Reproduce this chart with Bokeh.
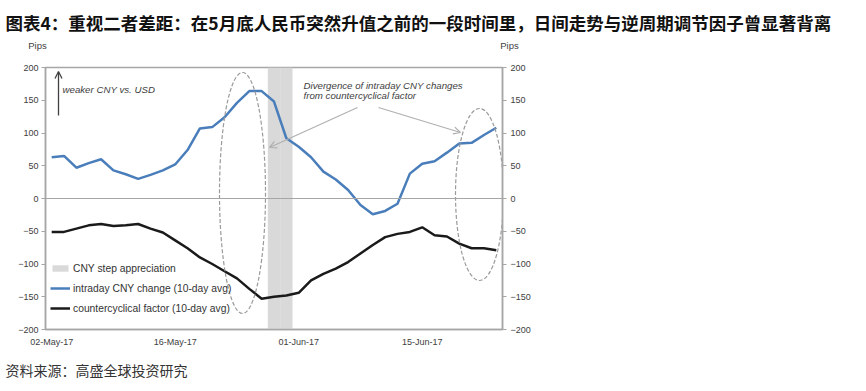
from bokeh.plotting import figure
from bokeh.models import (Range1d, LinearAxis, FixedTicker, Span, Label, Arrow,
                          OpenHead, Legend, LegendItem)
from bokeh.embed import file_html
from bokeh.resources import INLINE

# ---------------- data ----------------
dates = ["02-May-17", "03-May-17", "04-May-17", "05-May-17", "08-May-17", "09-May-17",
         "10-May-17", "11-May-17", "12-May-17", "15-May-17", "16-May-17", "17-May-17",
         "18-May-17", "19-May-17", "22-May-17", "23-May-17", "24-May-17", "25-May-17",
         "26-May-17", "31-May-17", "01-Jun-17", "02-Jun-17", "05-Jun-17", "06-Jun-17",
         "07-Jun-17", "08-Jun-17", "09-Jun-17", "12-Jun-17", "13-Jun-17", "14-Jun-17",
         "15-Jun-17", "16-Jun-17", "19-Jun-17", "20-Jun-17", "21-Jun-17", "22-Jun-17",
         "23-Jun-17"]
intraday_cny = [63, 65, 47, 54, 60, 43, 37, 30, 36, 43, 52, 74, 107, 109, 124, 146, 164,
                164, 148, 92, 79, 63, 41, 29, 13, -10, -24, -19, -8, 38, 53, 57, 70, 84,
                85, 97, 108]
countercyclical = [-51, -51, -46, -41, -39, -42, -41, -39, -46, -52, -64, -76, -90, -100,
                   -111, -122, -138, -153, -150, -148, -144, -125, -115, -107, -97, -84,
                   -71, -59, -54, -51, -44, -56, -58, -69, -76, -76, -79]
step_dates = ["26-May-17", "31-May-17"]
x_tick_labels = ["02-May-17", "16-May-17", "01-Jun-17", "15-Jun-17"]
y_ticks = [-200, -150, -100, -50, 0, 50, 100, 150, 200]

title_text = "图表4：重视二者差距：在5月底人民币突然升值之前的一段时间里，日间走势与逆周期调节因子曾显著背离"
source_text = "资料来源：高盛全球投资研究"

# ---------------- layout helpers (canvas pixel -> data) ----------------
N = len(dates)
W, H = 850, 382
FL, FR, FT, FB = 45, 502, 67, 329


def xd(px):
    return -0.5 + (px - FL) * N / (FR - FL)


def yd(py):
    return y_ticks[-1] - (py - FT) * (y_ticks[-1] - y_ticks[0]) / (FB - FT)


def wd(px):
    return px * N / (FR - FL)


def hd(px):
    return px * (y_ticks[-1] - y_ticks[0]) / (FB - FT)


idx = list(range(N))
FONT = "Liberation Sans"
TXT = "#404040"
AX = "#a6a6a6"

p = figure(width=W, height=H, output_backend="svg", toolbar_location=None,
           x_range=Range1d(-0.5, N - 0.5), y_range=Range1d(y_ticks[0], y_ticks[-1]),
           min_border_left=FL, min_border_top=FT,
           min_border_right=W - FR, min_border_bottom=H - FB)
p.xgrid.visible = False
p.ygrid.visible = False
p.outline_line_color = AX
p.outline_line_width = 1.5
p.background_fill_color = "white"
p.border_fill_color = "white"

# step appreciation band
step_idx = [dates.index(d) for d in step_dates]
band = p.vbar(x=step_idx, width=1, top=y_ticks[-1], bottom=y_ticks[0],
              fill_color="#d9d9d9", line_color=None)

# zero line
p.add_layout(Span(location=0, dimension="width", line_color=AX, line_width=1.2))

blue = p.line(idx, intraday_cny, line_color="#4a7ebb", line_width=2.5)
black = p.line(idx, countercyclical, line_color="#1a1a1a", line_width=2.5)

# dashed ellipses
p.ellipse(x=[xd(242), xd(479)], y=[yd(192.5), yd(194)],
          width=[wd(46), wd(48)], height=[hd(241), hd(172)],
          fill_color=None, line_color="#9a9a9a", line_width=1.2, line_dash="4 2")

# axes
xa = p.xaxis[0]
xa.ticker = FixedTicker(ticks=[dates.index(d) for d in x_tick_labels])
xa.major_label_overrides = {dates.index(d): d for d in x_tick_labels}
xa.axis_line_color = AX
xa.axis_line_width = 1.5
xa.major_tick_line_color = None
xa.minor_tick_line_color = None
xa.major_label_standoff = 1
xa.major_label_text_font = FONT
xa.major_label_text_font_size = "9px"
xa.major_label_text_color = TXT

ya = p.yaxis[0]
ya.ticker = FixedTicker(ticks=y_ticks)
ya.axis_line_color = AX
ya.axis_line_width = 1.5
ya.major_tick_line_color = AX
ya.major_tick_out = 4
ya.major_tick_in = 0
ya.minor_tick_line_color = None
ya.major_label_standoff = 3
ya.major_label_text_font = FONT
ya.major_label_text_font_size = "9px"
ya.major_label_text_color = TXT

ra = LinearAxis(ticker=FixedTicker(ticks=y_ticks))
ra.axis_line_color = AX
ra.axis_line_width = 1.5
ra.major_tick_line_color = AX
ra.major_tick_out = 4
ra.major_tick_in = 0
ra.minor_tick_line_color = None
ra.major_label_standoff = 4
ra.major_label_text_font = FONT
ra.major_label_text_font_size = "9px"
ra.major_label_text_color = TXT
p.add_layout(ra, "right")

# legend
legend = Legend(items=[LegendItem(label="CNY step appreciation", renderers=[band]),
                       LegendItem(label="intraday CNY change (10-day avg)", renderers=[blue]),
                       LegendItem(label="countercyclical factor (10-day avg)", renderers=[black])],
                location=(5, 11), padding=0, spacing=0, margin=0,
                glyph_width=20, glyph_height=8, label_height=20, label_standoff=3,
                label_text_font=FONT, label_text_font_size="10.3px",
                label_text_color="#333333",
                background_fill_alpha=0, border_line_alpha=0)
p.add_layout(legend, "center")

# annotations
p.add_layout(Arrow(x_start=xd(58), y_start=yd(115), x_end=xd(58), y_end=yd(71),
                   line_color="#404040", line_width=1.3,
                   end=OpenHead(size=7, line_color="#404040", line_width=1.3)))
p.add_layout(Label(x=xd(62), y=yd(89), text="weaker CNY vs. USD", text_font=FONT,
                   text_font_style="italic", text_font_size="9.7px", text_color=TXT,
                   text_baseline="middle"))
p.add_layout(Label(x=xd(303), y=yd(85), text="Divergence  of intraday CNY changes",
                   text_font=FONT, text_font_style="italic", text_font_size="9.7px",
                   text_color=TXT, text_baseline="middle"))
p.add_layout(Label(x=xd(303), y=yd(95), text="from countercyclical factor",
                   text_font=FONT, text_font_style="italic", text_font_size="9.7px",
                   text_color=TXT, text_baseline="middle"))
for (xs, ys, xe, ye) in [(357, 107, 269, 147), (378, 107, 460, 132)]:
    p.add_layout(Arrow(x_start=xd(xs), y_start=yd(ys), x_end=xd(xe), y_end=yd(ye),
                       line_color="#b0b0b0", line_width=1.2,
                       end=OpenHead(size=7, line_color="#b0b0b0", line_width=1.2)))

# texts outside the frame, placed in side panels (canvas pixels)
for cx in (37, 509):
    p.add_layout(Label(x=cx, y=45, x_units="canvas", y_units="canvas", text="Pips",
                       text_font=FONT, text_font_size="9.5px", text_color=TXT,
                       text_align="center", text_baseline="middle"), "above")

p.add_layout(Label(x=5, y=22, x_units="canvas", y_units="canvas", text=title_text,
                   text_font="Noto Sans CJK SC", text_font_style="bold",
                   text_font_size="17.5px", text_color="#111111", text_baseline="middle"),
             "above")
p.add_layout(Label(x=5, y=369, x_units="canvas", y_units="canvas", text=source_text,
                   text_font="Noto Sans CJK SC", text_font_size="14px",
                   text_color="#333333", text_baseline="middle"), "below")

open("out.html", "w").write(file_html(p, INLINE))
